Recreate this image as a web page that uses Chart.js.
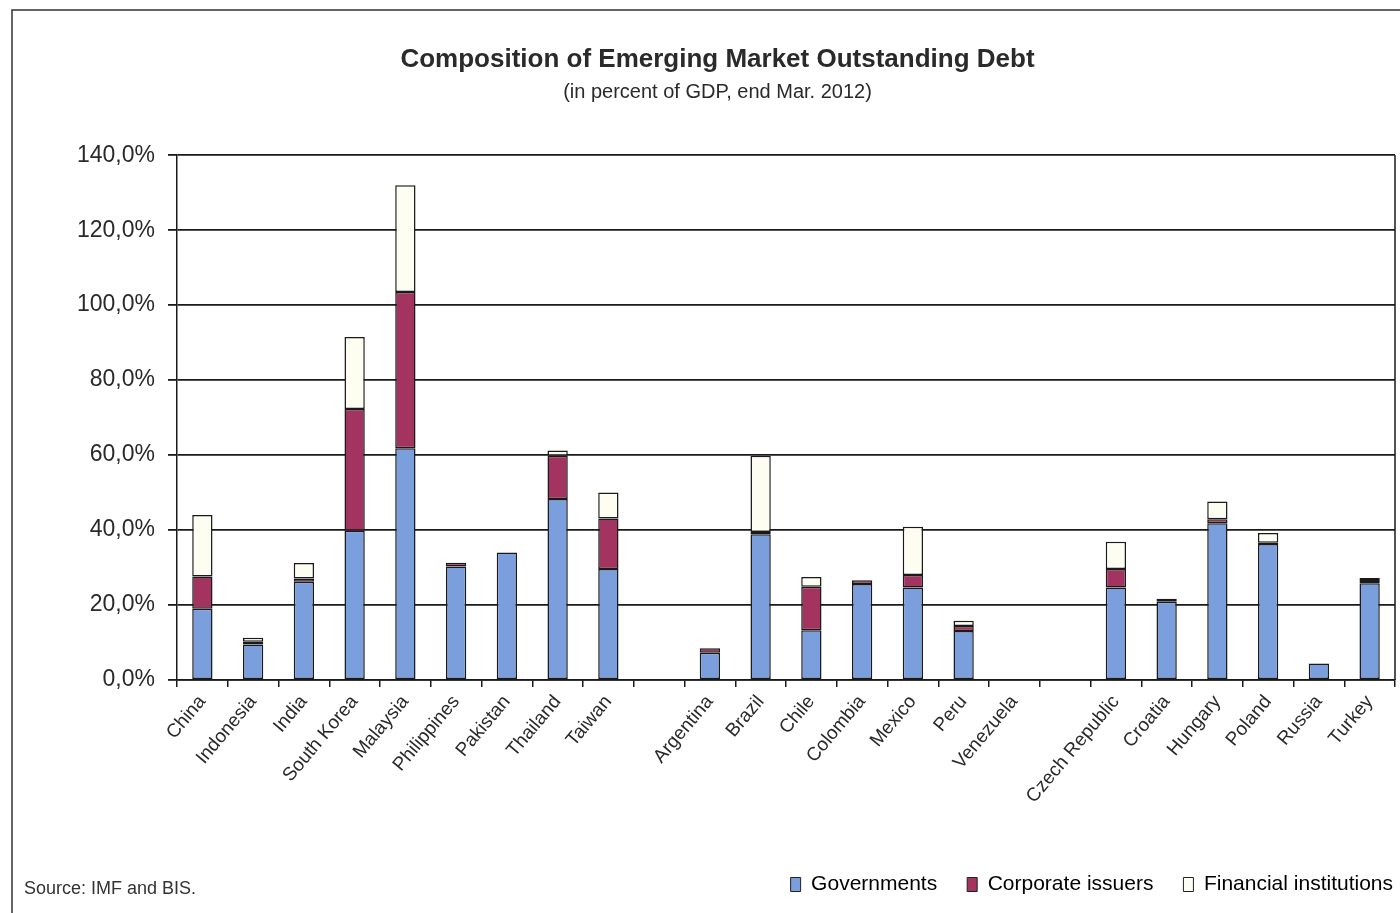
<!DOCTYPE html>
<html>
<head>
<meta charset="utf-8">
<title>Composition of Emerging Market Outstanding Debt</title>
<script src="https://cdn.jsdelivr.net/npm/chart.js@4.4.0/dist/chart.umd.min.js"></script>
<style>
  html, body { margin: 0; padding: 0; background: #fff; }
  #wrap { width: 1400px; height: 913px; position: relative; }
</style>
</head>
<body>
<div id="wrap"><canvas id="debtChart" width="1400" height="913"></canvas></div>
<script>
// countries, empty strings are the gaps between regions
const countries = [
  'China', 'Indonesia', 'India', 'South Korea', 'Malaysia', 'Philippines', 'Pakistan', 'Thailand', 'Taiwan',
  '',
  'Argentina', 'Brazil', 'Chile', 'Colombia', 'Mexico', 'Peru', 'Venezuela',
  '',
  'Czech Republic', 'Croatia', 'Hungary', 'Poland', 'Russia', 'Turkey'
]

// % of GDP
const governments = [19.0, 9.5, 26.2, 39.8, 61.8, 30.3, 34.0, 48.3, 29.6, null, 7.3, 38.9, 13.3, 25.6, 24.7, 13.1, null, null, 24.7, 20.9, 41.8, 36.3, 4.4, 25.8]
const corporates = [8.6, 0.7, 0.9, 32.5, 41.7, 1.0, null, 11.5, 13.5, null, 1.2, 0.6, 11.6, 1.0, 3.3, 1.3, null, null, 4.9, 0.8, 1.1, 0.3, null, 0.6]
const financials = [16.4, 1.1, 4.1, 19.2, 28.5, null, null, 1.4, 6.9, null, null, 20.3, 2.6, null, 12.9, 1.4, null, null, 7.3, null, 4.7, 2.6, null, 0.8]

const yTicks = [0, 20, 40, 60, 80, 100, 120, 140]

const ink = '#1a1a1a'
const font = 'Liberation Sans, Arial, sans-serif'

// frame, right border and source note
const extras = {
  id: 'extras',
  beforeDraw(chart) {
    // push the legend flush with the right edge like the original
    const lg = chart.legend
    if (lg && !lg._moved) {
      lg.left += 28
      lg.right += 28
      lg._moved = true
    }
  },
  afterDraw(chart) {
    const { ctx, chartArea } = chart
    ctx.save()
    ctx.strokeStyle = '#333'
    ctx.lineWidth = 1.5
    ctx.beginPath()
    ctx.moveTo(12, 913)
    ctx.lineTo(12, 10)
    ctx.lineTo(1400, 10)
    ctx.stroke()

    ctx.strokeStyle = ink
    ctx.beginPath()
    ctx.moveTo(chartArea.right, chartArea.top)
    ctx.lineTo(chartArea.right, chartArea.bottom)
    ctx.stroke()

    ctx.fillStyle = '#333'
    ctx.font = '18px ' + font
    ctx.textBaseline = 'middle'
    ctx.fillText('Source: IMF and BIS.', 24, 889)
    ctx.restore()
  }
}

const bar = { borderColor: ink, borderWidth: 1.5, borderSkipped: false, categoryPercentage: 1, barPercentage: 0.4 }

new Chart(document.getElementById('debtChart'), {
  type: 'bar',
  data: {
    labels: countries,
    datasets: [
      { label: 'Governments', data: governments, backgroundColor: '#7b9edc', ...bar },
      { label: 'Corporate issuers', data: corporates, backgroundColor: '#a3335f', ...bar },
      { label: 'Financial institutions', data: financials, backgroundColor: '#fdfdf2', ...bar }
    ]
  },
  options: {
    responsive: false,
    animation: false,
    layout: { padding: { left: 40, right: 5, top: 0, bottom: 8 } },
    plugins: {
      title: {
        display: true,
        text: 'Composition of Emerging Market Outstanding Debt',
        color: '#2a2a2a',
        font: { family: font, size: 26, weight: 'bold' },
        padding: { top: 44, bottom: 5 }
      },
      subtitle: {
        display: true,
        text: '(in percent of GDP, end Mar. 2012)',
        color: '#2a2a2a',
        font: { family: font, size: 20 },
        padding: { top: 0, bottom: 51 }
      },
      legend: {
        position: 'bottom',
        align: 'end',
        labels: {
          color: '#333',
          font: { family: font, size: 21 },
          boxWidth: 10,
          boxHeight: 14,
          padding: 30,
          generateLabels(chart) {
            return chart.data.datasets.map((ds, i) => ({
              text: ds.label,
              fillStyle: ds.backgroundColor,
              strokeStyle: '#222',
              lineWidth: 1,
              datasetIndex: i
            }))
          }
        }
      },
      tooltip: { enabled: false }
    },
    scales: {
      x: {
        stacked: true,
        afterFit(scale) { scale.height = 164 },
        grid: { display: true, drawOnChartArea: false, drawTicks: true, tickLength: 7, color: ink, lineWidth: 1.5 },
        border: { display: true, color: ink, width: 1.5 },
        ticks: {
          color: '#2a2a2a',
          font: { family: font, size: 19 },
          minRotation: 50,
          maxRotation: 50,
          autoSkip: false,
          padding: 4
        }
      },
      y: {
        stacked: true,
        min: 0,
        max: 140,
        afterFit(scale) { scale.width = 137 },
        afterBuildTicks(scale) { scale.ticks = yTicks.map(v => ({ value: v })) },
        grid: { color: ink, lineWidth: 1.8, tickLength: 9 },
        border: { display: true, color: ink, width: 1.5 },
        ticks: {
          color: '#2a2a2a',
          font: { family: font, size: 23 },
          padding: 13,
          callback: v => v.toFixed(1).replace('.', ',') + '%'
        }
      }
    }
  },
  plugins: [extras]
})
</script>
</body>
</html>
